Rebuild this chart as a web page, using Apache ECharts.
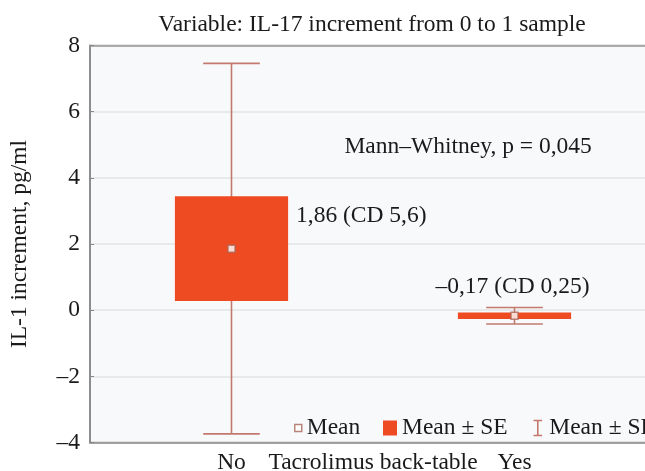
<!DOCTYPE html>
<html>
<head>
<meta charset="utf-8">
<script src="https://cdn.jsdelivr.net/npm/echarts@6/dist/echarts.min.js"></script>
<style>html,body{margin:0;padding:0;background:#fff}#c{width:645px;height:471px}</style>
</head>
<body>
<div id="c"></div>
<script>
// ---- data ----
const categories = ['No', 'Yes'];
const means = [1.86, -0.17];
const seValues = [1.58, 0.10];
const sdValues = [5.6, 0.25];
const groupLabels = ['1,86 (CD 5,6)', '–0,17 (CD 0,25)'];
const testLabel = 'Mann–Whitney, p = 0,045';
const yMin = -4, yMax = 8, yStep = 2;

// ---- styles ----
const FONT = 'Liberation Serif';
const FS = 23.5;
const boxColor = '#ee4b23';
const whiskerColor = '#c27a6e';
const meanBorder = '#a9685a';

const chart = echarts.init(document.getElementById('c'), null, {renderer: 'canvas'});

function sdItem(params, api) {
  const x = api.value(0), m = api.value(1), sd = api.value(2);
  const top = api.coord([x, m + sd]);
  const bot = api.coord([x, m - sd]);
  const hw = api.size([1, 0])[0] * 0.1;
  const st = {stroke: whiskerColor, lineWidth: 1.6};
  return {type: 'group', children: [
    {type: 'line', shape: {x1: top[0], y1: top[1], x2: bot[0], y2: bot[1]}, style: st},
    {type: 'line', shape: {x1: top[0] - hw, y1: top[1], x2: top[0] + hw, y2: top[1]}, style: st},
    {type: 'line', shape: {x1: bot[0] - hw, y1: bot[1], x2: bot[0] + hw, y2: bot[1]}, style: st}
  ]};
}
function seItem(params, api) {
  const x = api.value(0), m = api.value(1), se = api.value(2);
  const top = api.coord([x, m + se]);
  const bot = api.coord([x, m - se]);
  const hw = api.size([1, 0])[0] * 0.2;
  return {type: 'rect', shape: {x: top[0] - hw, y: top[1], width: hw * 2, height: bot[1] - top[1]},
    style: {fill: boxColor}};
}
function textItem(params, api) {
  const p = api.coord([api.value(0), api.value(1)]);
  const d = annotations[params.dataIndex];
  return {type: 'text', x: p[0], y: p[1],
    style: {text: d.text, fill: '#1a1a1a', font: FS + 'px "' + FONT + '"', align: d.align, verticalAlign: 'middle'}};
}
const annotations = [
  {text: groupLabels[0], value: [0.228, 2.86], align: 'left'},
  {text: groupLabels[1], value: [0.993, 0.71], align: 'center'},
  {text: testLabel, value: [0.836, 4.95], align: 'center'}
];

const txt = {fontFamily: FONT, fontSize: FS, color: '#1a1a1a'};

const option = {
  backgroundColor: '#fff',
  animation: false,
  title: {
    text: 'Variable: IL-17 increment from 0 to 1 sample',
    left: 372, top: 13, textAlign: 'center', padding: 0,
    textStyle: {fontFamily: FONT, fontSize: FS, fontWeight: 'normal', color: '#1a1a1a'}
  },
  grid: {left: 90, right: -11, top: 45.5, bottom: 28.5, show: true, containLabel: false,
    outerBoundsMode: 'none',
    backgroundColor: '#f8f9fb', borderColor: '#9a9a9a', borderWidth: 1.5},
  legend: [
    {data: [{name: 'Mean', icon: 'rect'}], left: 294, top: 416, padding: 0, itemWidth: 7, itemHeight: 7,
      itemStyle: {color: '#fff', borderColor: meanBorder, borderWidth: 1.5}, textStyle: txt},
    {data: [{name: 'Mean ± SE', icon: 'rect'}], left: 383, top: 416, padding: 0, itemWidth: 14, itemHeight: 15,
      itemStyle: {color: boxColor}, textStyle: txt},
    {data: [{name: 'Mean ± SD', icon: 'path://M0,0H8M4,0V14M0,14H8'}], left: 531, top: 416, padding: 0, itemWidth: 9, itemHeight: 15,
      itemStyle: {color: 'none', borderColor: whiskerColor, borderWidth: 1.6}, textStyle: Object.assign({padding: [0, 0, 0, 2]}, txt)}
  ],
  xAxis: [
    {type: 'category', data: categories, position: 'bottom',
      name: 'Tacrolimus back-table', nameLocation: 'middle', nameGap: 20, nameMoveOverlap: false,
      nameTextStyle: Object.assign({verticalAlign: 'middle'}, txt),
      axisLine: {onZero: false, lineStyle: {color: '#8a8a8a', width: 1.5}},
      axisTick: {alignWithLabel: true, inside: true, length: 4, lineStyle: {color: '#777'}},
      axisLabel: Object.assign({margin: 8}, txt)},
    {type: 'value', min: -0.5, max: 1.5, show: false},
    {type: 'category', data: categories, position: 'top',
      axisLine: {onZero: false, lineStyle: {color: '#9a9a9a', width: 1.5}},
      axisTick: {alignWithLabel: true, inside: true, length: 4, lineStyle: {color: '#777'}},
      axisLabel: {show: false}}
  ],
  yAxis: {
    type: 'value', min: yMin, max: yMax, interval: yStep,
    name: 'IL-1 increment, pg/ml', nameLocation: 'middle', nameGap: 70, nameRotate: 90, nameMoveOverlap: false,
    nameTextStyle: Object.assign({verticalAlign: 'middle'}, txt),
    axisLine: {show: true, onZero: false, lineStyle: {color: '#8a8a8a', width: 1.8}},
    axisTick: {show: true, inside: true, length: 4, lineStyle: {color: '#888'}},
    axisLabel: Object.assign({margin: 10, formatter: v => String(v).replace('-', '–')}, txt),
    splitLine: {lineStyle: {color: '#e2e3e6', width: 1.5}}
  },
  series: [
    {name: 'Mean ± SD', type: 'custom', renderItem: sdItem, xAxisIndex: 0, color: whiskerColor,
      encode: {x: 0, y: 1}, data: categories.map((c, i) => [i, means[i], sdValues[i]]), z: 2},
    {name: 'Mean ± SE', type: 'custom', renderItem: seItem, xAxisIndex: 0, color: boxColor,
      encode: {x: 0, y: 1}, data: categories.map((c, i) => [i, means[i], seValues[i]]), z: 3},
    {name: 'Mean', type: 'scatter', xAxisIndex: 0, symbol: 'rect', symbolSize: 7,
      itemStyle: {color: '#fff', borderColor: meanBorder, borderWidth: 1.5},
      data: categories.map((c, i) => [i, means[i]]), z: 4},
    {name: 'annot', type: 'custom', renderItem: textItem, xAxisIndex: 1, silent: true,
      encode: {x: 0, y: 1}, data: annotations.map(a => a.value), z: 5}
  ]
};
chart.setOption(option);
</script>
</body>
</html>
